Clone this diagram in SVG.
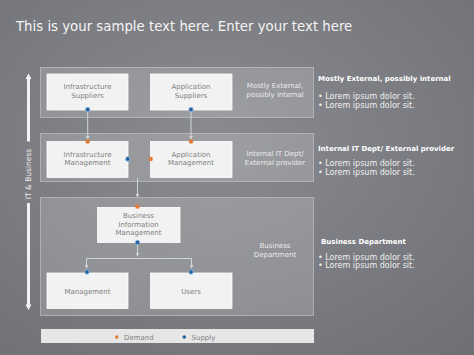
<svg xmlns="http://www.w3.org/2000/svg" width="474" height="355" viewBox="0 0 474 355">
<defs>
<radialGradient id="bg" cx="0.45" cy="0.4" r="0.8">
<stop offset="0" stop-color="#8a8b90"/>
<stop offset="1" stop-color="#6f7075"/>
</radialGradient>
<marker id="ah" viewBox="0 0 6 6" refX="5" refY="3" markerWidth="4" markerHeight="4" orient="auto">
<path d="M0,0 L6,3 L0,6 z" fill="#d0d4d8"/>
</marker>
</defs>
<style>
.panel{fill:#ffffff;fill-opacity:0.17;stroke:#c8c9cc;stroke-opacity:0.6;stroke-width:1}
.box{fill:#f2f2f2;stroke:#ffffff;stroke-width:0.8}
.bt{font-family:"DejaVu Sans",Verdana,sans-serif;font-size:7px;fill:#7f7f7f;text-anchor:middle}
.pl{font-family:"DejaVu Sans",Verdana,sans-serif;font-size:7px;fill:#ececec;text-anchor:middle}
.rh{font-family:"DejaVu Sans",Verdana,sans-serif;font-size:7px;font-weight:bold;fill:#ffffff}
.rb{font-family:"DejaVu Sans",Verdana,sans-serif;font-size:8px;fill:#f0f0f0}
.ln{stroke:#d0d4d8;stroke-width:1;fill:none}
.dem{fill:#e07b39}
.sup{fill:#1f5fa0;stroke:#8fb8e0;stroke-width:0.8}
</style>
<rect width="474" height="355" fill="url(#bg)"/>
<text x="16" y="31" font-family="DejaVu Sans,Verdana,sans-serif" font-size="13.3" fill="#f4f4f4">This is your sample text here. Enter your text here</text>

<g id="panels">
<rect class="panel" x="40.5" y="67.5" width="273" height="50"/>
<rect class="panel" x="40.5" y="133.5" width="273" height="48"/>
<rect class="panel" x="40.5" y="197.5" width="273" height="118"/>
<text class="pl" x="275" y="88">Mostly External,</text>
<text class="pl" x="275" y="96.5">possibly internal</text>
<text class="pl" x="275" y="156">Internal IT Dept/</text>
<text class="pl" x="275" y="164.5">External provider</text>
<text class="pl" x="275" y="248">Business</text>
<text class="pl" x="275" y="256.5">Department</text>
</g>

<g id="side">
<path d="M27,141.5 V79 H25.5 L28.5,73.5 L31.5,79 H30 V141.5 z" fill="#f2f2f2"/>
<path d="M27,203 V304.5 H25.5 L28.5,310 L31.5,304.5 H30 V203 z" fill="#f2f2f2"/>
<text transform="translate(31,174) rotate(-90)" font-family="DejaVu Sans,Verdana,sans-serif" font-size="7.5" fill="#f2f2f2" text-anchor="middle">IT &amp; Business</text>
</g>

<g id="connectors">
<line class="ln" x1="87.7" y1="110" x2="87.7" y2="139" marker-end="url(#ah)"/>
<line class="ln" x1="191" y1="110" x2="191" y2="139" marker-end="url(#ah)"/>
<line class="ln" x1="137.5" y1="178" x2="137.5" y2="197" marker-end="url(#ah)"/>
<line class="ln" x1="137.5" y1="243" x2="137.5" y2="256" marker-end="url(#ah)"/>
<path class="ln" d="M86.5,268 V258.5 H191.5 V268"/>
<line class="ln" x1="86.5" y1="262" x2="86.5" y2="268" marker-end="url(#ah)"/>
<line class="ln" x1="191.5" y1="262" x2="191.5" y2="268" marker-end="url(#ah)"/>
</g>

<g id="n-infra-sup"><rect class="box" x="47" y="74" width="81" height="36"/><text class="bt" x="87.5" y="89">Infrastructure</text><text class="bt" x="87.5" y="97.5">Suppliers</text></g>
<g id="n-app-sup"><rect class="box" x="150.5" y="74" width="81.5" height="36"/><text class="bt" x="191" y="89">Application</text><text class="bt" x="191" y="97.5">Suppliers</text></g>
<g id="n-infra-mgmt"><rect class="box" x="47" y="141.5" width="81" height="36"/><text class="bt" x="87.5" y="156.5">Infrastructure</text><text class="bt" x="87.5" y="165">Management</text></g>
<g id="n-app-mgmt"><rect class="box" x="150.5" y="141.5" width="81.5" height="36"/><text class="bt" x="191" y="156.5">Application</text><text class="bt" x="191" y="165">Management</text></g>
<g id="n-bim"><rect class="box" x="97.5" y="207.5" width="82.5" height="35"/><text class="bt" x="138.5" y="218">Business</text><text class="bt" x="138.5" y="226.5">Information</text><text class="bt" x="138.5" y="235">Management</text></g>
<g id="n-mgmt"><rect class="box" x="47" y="273" width="81" height="35.5"/><text class="bt" x="87.5" y="293.5">Management</text></g>
<g id="n-users"><rect class="box" x="150.5" y="273" width="81.5" height="35.5"/><text class="bt" x="191" y="293.5">Users</text></g>

<g id="dots">
<circle class="sup" cx="87.7" cy="109.5" r="2.2"/>
<circle class="sup" cx="191" cy="109.5" r="2.2"/>
<circle class="dem" cx="87.7" cy="141.5" r="2.2"/>
<circle class="dem" cx="191" cy="141.5" r="2.2"/>
<circle class="sup" cx="127.7" cy="159" r="2.2"/>
<circle class="dem" cx="150.7" cy="159" r="2.2"/>
<circle class="dem" cx="137.5" cy="206.5" r="2.2"/>
<circle class="sup" cx="137.5" cy="242.5" r="2.2"/>
<circle class="sup" cx="87" cy="272" r="2.2"/>
<circle class="sup" cx="191" cy="272" r="2.2"/>
</g>

<g id="legend">
<rect x="41" y="329" width="273" height="14" fill="#e6e6e6"/>
<circle class="dem" cx="116.7" cy="337" r="1.8"/>
<text x="124" y="339.5" font-family="DejaVu Sans,Verdana,sans-serif" font-size="7" fill="#7f7f7f">Demand</text>
<circle cx="184.3" cy="337" r="1.8" fill="#1f5fa0"/>
<text x="191.5" y="339.5" font-family="DejaVu Sans,Verdana,sans-serif" font-size="7" fill="#7f7f7f">Supply</text>
</g>

<g id="notes">
<text class="rh" x="318" y="80.5">Mostly External, possibly internal</text>
<text class="rb" x="318" y="99">•  Lorem ipsum dolor sit.</text>
<text class="rb" x="318" y="107.5">•  Lorem ipsum dolor sit.</text>
<text class="rh" x="318" y="150.5">Internal IT Dept/ External provider</text>
<text class="rb" x="318" y="166">•  Lorem ipsum dolor sit.</text>
<text class="rb" x="318" y="174.5">•  Lorem ipsum dolor sit.</text>
<text class="rh" x="321" y="244">Business Department</text>
<text class="rb" x="318" y="259.5">•  Lorem ipsum dolor sit.</text>
<text class="rb" x="318" y="268">•  Lorem ipsum dolor sit.</text>
</g>
</svg>
